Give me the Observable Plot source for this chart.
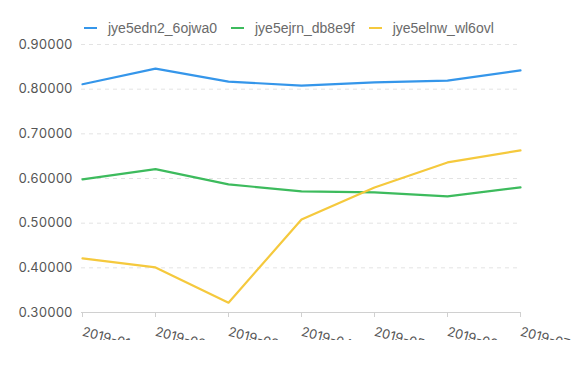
<!DOCTYPE html>
<html>
<head>
<meta charset="utf-8">
<script src="https://cdn.jsdelivr.net/npm/d3@7"></script>
<script src="https://cdn.jsdelivr.net/npm/@observablehq/plot@0.6"></script>
<style>
  body { margin: 0; background: #fff; font-family: Inter, "Noto Sans", sans-serif; }
  #wrap { width: 579px; height: 340px; overflow: hidden; position: relative; }
  #legend { height: 40px; display: flex; align-items: center; padding-left: 84px; padding-top: 16px; box-sizing: border-box; font-family: "Liberation Sans", Arial, sans-serif; font-size: 14px; color: #6a6a6a; }
  .item { display: flex; align-items: center; margin-right: 14px; }
  .sw { width: 13px; height: 2px; margin-right: 11px; }
</style>
</head>
<body>
<div id="wrap">
  <div id="legend"></div>
  <div id="chart"></div>
</div>
<script>
const dates = ["2019-01-01", "2019-02-01", "2019-03-01", "2019-04-01", "2019-05-01", "2019-06-01", "2019-07-01"];
const seriesNames = ["jye5edn2_6ojwa0", "jye5ejrn_db8e9f", "jye5elnw_wl6ovl"];
const seriesColors = ["#3596ea", "#3dbb5d", "#f5c93d"];
const blueValues = [0.811, 0.846, 0.817, 0.808, 0.815, 0.819, 0.842];
const greenValues = [0.598, 0.621, 0.587, 0.571, 0.569, 0.560, 0.580];
const yellowValues = [0.421, 0.401, 0.322, 0.508, 0.580, 0.636, 0.663];
const yTicks = [0.3, 0.4, 0.5, 0.6, 0.7, 0.8, 0.9];

const allValues = [blueValues, greenValues, yellowValues];
const data = [];
seriesNames.forEach((s, i) => dates.forEach((d, j) => data.push({series: s, date: d, value: allValues[i][j]})));

const legend = document.getElementById("legend");
seriesNames.forEach((s, i) => {
  const it = document.createElement("div");
  it.className = "item";
  it.innerHTML = `<span class="sw" style="background:${seriesColors[i]}"></span><span>${s}</span>`;
  legend.appendChild(it);
});

const hasAxisMarks = typeof Plot.axisX === "function";
const marks = [
  Plot.ruleY(yTicks.filter(t => t > 0.3), {stroke: "#e3e3e3", strokeDasharray: "4,4", strokeWidth: 1}),
  Plot.ruleY([0.3], {stroke: "#d0d0d0", strokeWidth: 1}),
  Plot.line(data, {x: "date", y: "value", z: "series", stroke: "series", strokeWidth: 2.2})
];
if (hasAxisMarks) {
  marks.unshift(
    Plot.axisY({ticks: yTicks, tickSize: 0, tickPadding: 9, tickFormat: d3.format(".5f"), fill: "#555", fontSize: 13, label: null}),
    Plot.axisX({tickSize: 5, tickRotate: 15, tickPadding: 14, stroke: "#d0d0d0", fill: "#555", fontSize: 13, label: null})
  );
}

const chart = Plot.plot({
  width: 579,
  height: 302,
  marginLeft: 81,
  marginRight: 58,
  marginTop: 4,
  marginBottom: 30,
  style: {fontFamily: "Inter, 'Noto Sans', sans-serif", fontSize: "13px", color: "#555", overflow: "visible"},
  x: {type: "point", domain: dates, padding: 0, label: null, axis: hasAxisMarks ? null : "bottom", tickSize: 5, tickRotate: 15, tickPadding: 14},
  y: {domain: [0.3, 0.9], label: null, axis: hasAxisMarks ? null : "left", ticks: yTicks, tickSize: 0, tickPadding: 9, tickFormat: d3.format(".5f")},
  color: {domain: seriesNames, range: seriesColors},
  marks
});
document.getElementById("chart").appendChild(chart);
</script>
</body>
</html>
